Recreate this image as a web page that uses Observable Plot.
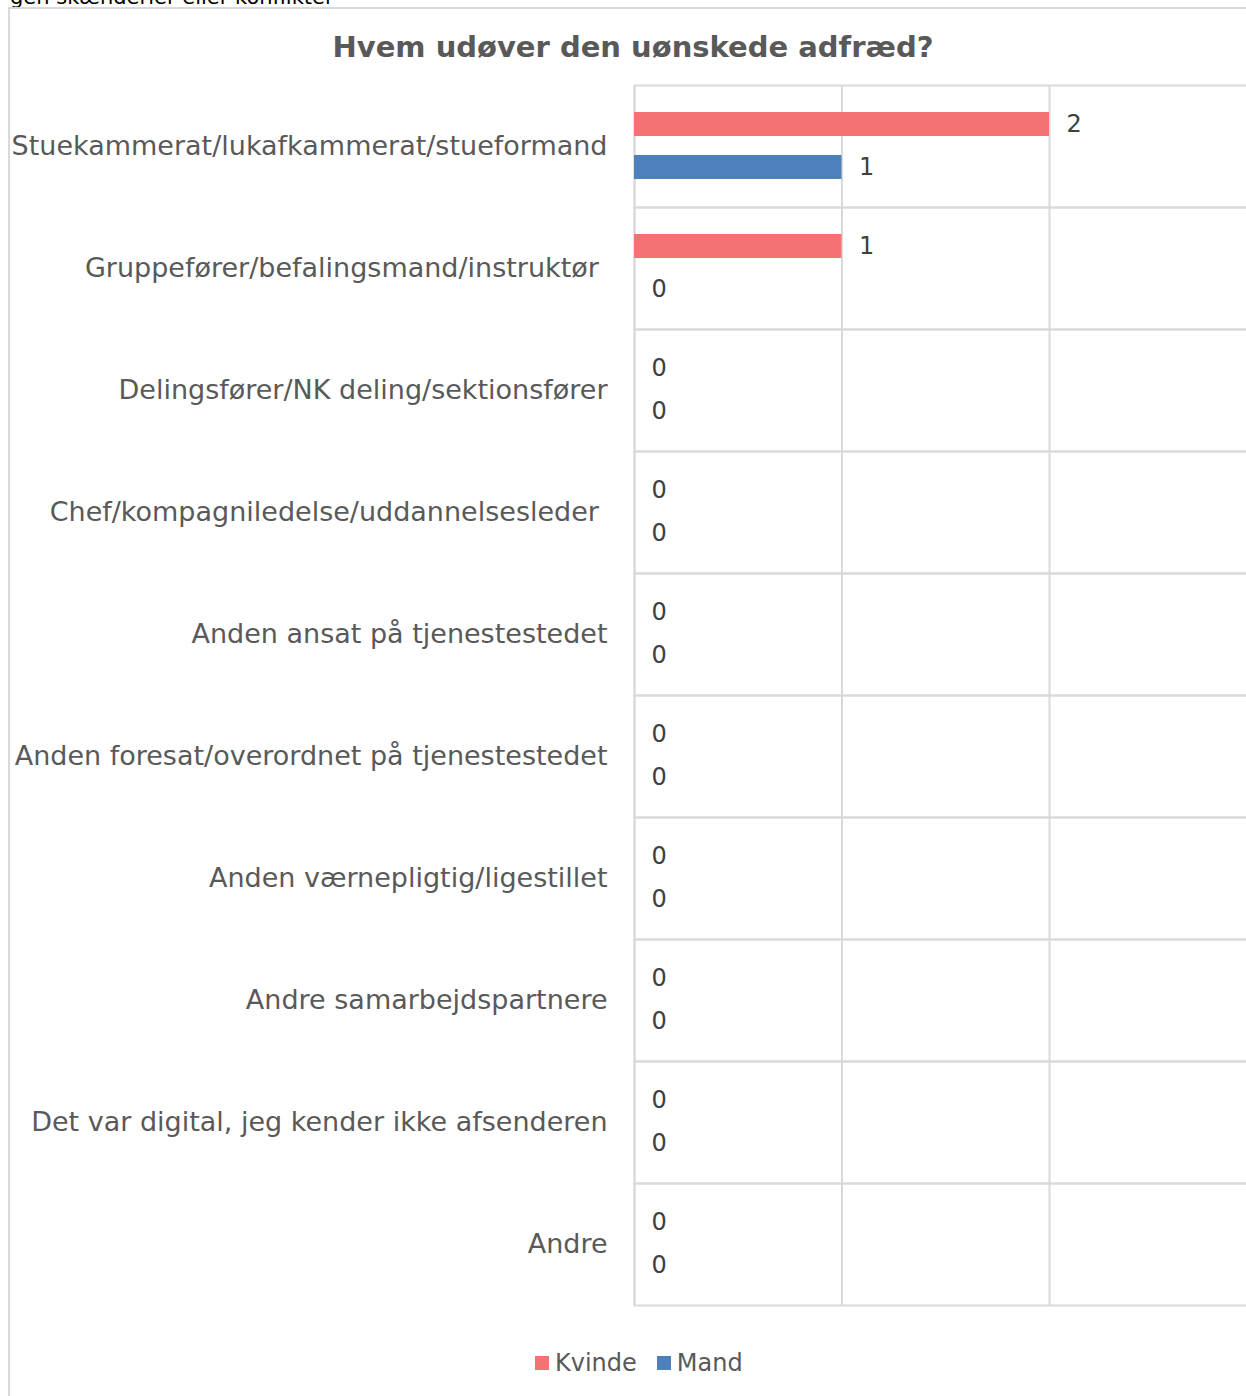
<!DOCTYPE html>
<html>
<head>
<meta charset="utf-8">
<script src="https://cdn.jsdelivr.net/npm/d3@7"></script>
<script src="https://cdn.jsdelivr.net/npm/@observablehq/plot@0.6"></script>
<style>
  html, body { margin: 0; padding: 0; background: #fff; overflow: hidden; width: 1246px; height: 1396px; }
  body { position: relative; font-family: "DejaVu Sans", Verdana, sans-serif; }
  #cut { position: absolute; left: 10px; top: -15px; font-size: 21px; color: #000; white-space: nowrap; }
  #frame { position: absolute; left: 8px; top: 7px; width: 1300px; height: 1450px; border: 2px solid #d9d9d9; box-sizing: border-box; }
  #title { position: absolute; left: 0; width: 1266px; top: 30px; text-align: center; font-weight: bold; font-size: 29px; color: #595959; white-space: nowrap; }
  #chart { position: absolute; left: 0; top: 70px; width: 1260px; }
  #legend { position: absolute; left: 535px; top: 1349px; font-size: 24px; color: #595959; display: flex; align-items: center; white-space: nowrap; }
  .sw { display: inline-block; width: 14px; height: 14px; margin-right: 6px; }
  .item { display: flex; align-items: center; margin-right: 20px; }
</style>
</head>
<body>
<div id="cut">gen skænderier eller konflikter</div>
<div id="frame"></div>
<div id="title">Hvem udøver den uønskede adfræd?</div>
<div id="chart"></div>
<div id="legend"></div>
<script>
const categories = [
  "Stuekammerat/lukafkammerat/stueformand",
  "Gruppefører/befalingsmand/instruktør ",
  "Delingsfører/NK deling/sektionsfører",
  "Chef/kompagniledelse/uddannelsesleder ",
  "Anden ansat på tjenestestedet",
  "Anden foresat/overordnet på tjenestestedet",
  "Anden værnepligtig/ligestillet",
  "Andre samarbejdspartnere",
  "Det var digital, jeg kender ikke afsenderen",
  "Andre"
];
const series = ["Kvinde", "Mand"];
const kvinde = [2, 1, 0, 0, 0, 0, 0, 0, 0, 0];
const mand   = [1, 0, 0, 0, 0, 0, 0, 0, 0, 0];
const colors = ["#F37274", "#4E80BC"];
const xTicks = [0, 1, 2, 3];

const rows = [];
categories.forEach((c, i) => {
  rows.push({category: c, series: "Kvinde", value: kvinde[i]});
  rows.push({category: c, series: "Mand", value: mand[i]});
});

const chart = Plot.plot({
  width: 1260,
  height: 1250,
  marginTop: 13,
  marginBottom: 14,
  marginLeft: 634,
  marginRight: 3.5,
  style: {fontFamily: "DejaVu Sans, Verdana, sans-serif", background: "transparent", maxWidth: "none"},
  x: {domain: [0, 3], axis: null},
  y: {domain: series, paddingInner: 0.44, paddingOuter: 0.62, axis: null},
  fy: {domain: categories, padding: 0, label: null, tickSize: 0, tickPadding: 27,
       tickFormat: d => d.replace(/ $/, "\u00a0")},
  color: {domain: series, range: colors},
  marks: [
    Plot.ruleX(xTicks, {stroke: "#d9d9d9", strokeWidth: 2}),
    Plot.frame({stroke: "#d9d9d9", strokeWidth: 2}),
    Plot.barX(rows, {x: "value", y: "series", fy: "category", fill: "series"}),
    Plot.text(rows, {x: "value", y: "series", fy: "category", text: d => String(d.value),
      dx: 17, textAnchor: "start", fontSize: 24, fill: "#404040"})
  ]
});
chart.style.maxWidth = "none";
chart.querySelectorAll('g[aria-label="fy-axis tick label"] text, g[aria-label="fy-axis tick label"]').forEach(el => {
  el.setAttribute("font-size", "27");
  el.setAttribute("fill", "#595959");
  el.style.fontSize = "27px";
  el.style.fill = "#595959";
});
document.getElementById("chart").appendChild(chart);

const legend = document.getElementById("legend");
series.forEach((s, i) => {
  const it = document.createElement("div");
  it.className = "item";
  const sw = document.createElement("span");
  sw.className = "sw";
  sw.style.background = colors[i];
  it.appendChild(sw);
  it.appendChild(document.createTextNode(s));
  legend.appendChild(it);
});
</script>
</body>
</html>
